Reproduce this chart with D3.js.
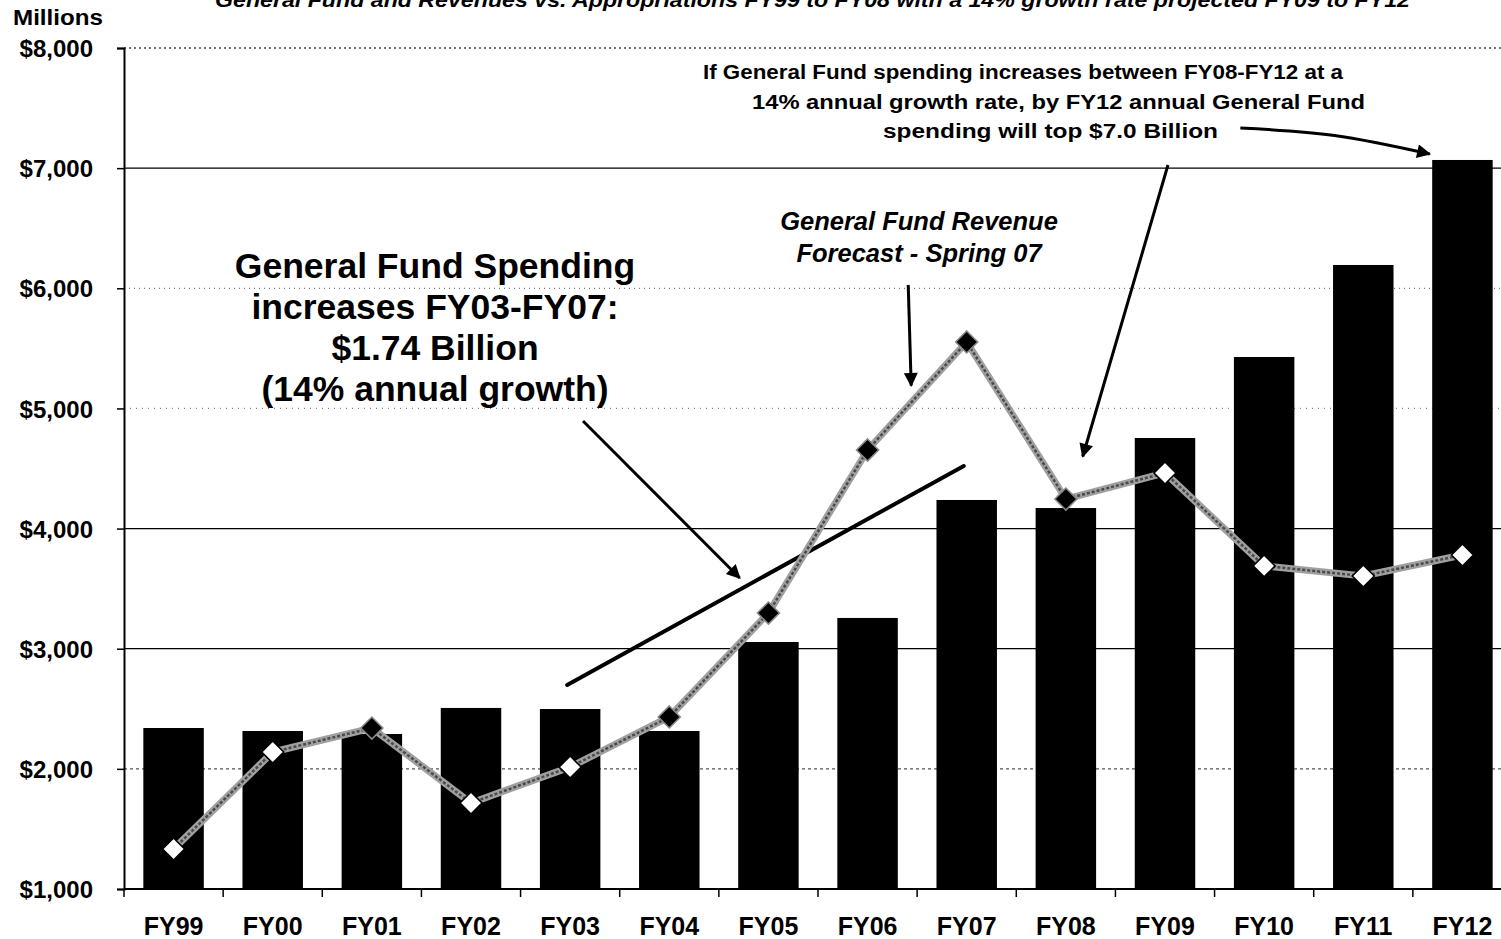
<!DOCTYPE html>
<html>
<head>
<meta charset="utf-8">
<script src="https://cdn.jsdelivr.net/npm/d3@7"></script>
<style>
  html, body { margin: 0; padding: 0; background: #fff; }
  svg { display: block; font-family: "Liberation Sans", Arial, sans-serif; }
</style>
</head>
<body>
<svg id="chart" width="1501" height="939"></svg>
<script>
// ---------------- data ----------------
const categories = ["FY99","FY00","FY01","FY02","FY03","FY04","FY05","FY06","FY07","FY08","FY09","FY10","FY11","FY12"];
const spending = [2340, 2315, 2290, 2507, 2498, 2315, 3056, 3256, 4238, 4171, 4754, 5428, 6194, 7068];
const revenue  = [1333, 2140, 2340, 1716, 2015, 2432, 3297, 4654, 5553, 4246, 4463, 3689, 3605, 3780];
const yTicks = [1000, 2000, 3000, 4000, 5000, 6000, 7000, 8000];
const titleText = "General Fund and Revenues vs. Appropriations FY99 to FY08 with a 14% growth rate projected FY09 to FY12";
const unitLabel = "Millions";
const spendNote = ["General Fund Spending", "increases FY03-FY07:", "$1.74 Billion", "(14% annual growth)"];
const revNote = ["General Fund Revenue", "Forecast - Spring 07"];
const projNote = ["If General Fund spending increases between FY08-FY12 at a", "14% annual growth rate, by FY12 annual General Fund", "spending will top $7.0 Billion"];
// trend line FY03 -> FY07 (category index, value)
const trendLine = [[3.97, 2698], [7.97, 4521]];

// ---------------- layout ----------------
const svg = d3.select("#chart");
const mLeft = 124, mRight = 1512, mTop = 48, mBottom = 889;

const x = d3.scaleBand().domain(categories).range([mLeft, mRight]).paddingInner(0.39).paddingOuter(0.195);
const y = d3.scaleLinear().domain([1000, 8000]).range([mBottom, mTop]);
const xi = d3.scaleLinear().domain([0, categories.length - 1])
  .range([x(categories[0]) + x.bandwidth() / 2, x(categories[categories.length - 1]) + x.bandwidth() / 2]);

const defs = svg.append("defs");
defs.append("marker").attr("id", "ah").attr("viewBox", "0 0 10 10")
  .attr("refX", 9).attr("refY", 5).attr("markerWidth", 16).attr("markerHeight", 14)
  .attr("markerUnits", "userSpaceOnUse").attr("orient", "auto")
  .append("path").attr("d", "M0,0 L10,5 L0,10 Z").attr("fill", "#000");

// title (cropped at top, as in the reference)
svg.append("text").attr("x", 215).attr("y", 7).attr("font-size", 21).attr("font-weight", "bold")
  .attr("font-style", "italic").attr("textLength", 1195).attr("lengthAdjust", "spacingAndGlyphs")
  .text(titleText);

svg.append("text").attr("x", 13).attr("y", 25).attr("font-size", 22).attr("font-weight", "bold")
  .attr("textLength", 90).attr("lengthAdjust", "spacingAndGlyphs").text(unitLabel);

// gridlines
const gridStyle = {8000: "2,3", 7000: null, 6000: "1,4", 5000: "1,5", 4000: null, 3000: null, 2000: "3,3"};
const gridColor = {8000: "#444", 7000: "#000", 6000: "#777", 5000: "#888", 4000: "#000", 3000: "#000", 2000: "#555"};
svg.append("g").selectAll("line").data(yTicks.filter(d => d > 1000)).join("line")
  .attr("x1", mLeft).attr("x2", 1501).attr("y1", d => y(d)).attr("y2", d => y(d))
  .attr("stroke", d => gridColor[d]).attr("stroke-width", 1.3)
  .attr("stroke-dasharray", d => gridStyle[d]);

// bars
svg.append("g").selectAll("rect").data(spending).join("rect")
  .attr("x", (d, i) => x(categories[i])).attr("width", x.bandwidth())
  .attr("y", d => y(d)).attr("height", d => y(1000) - y(d)).attr("fill", "#000");

// y axis
const yAxis = svg.append("g").attr("transform", `translate(${mLeft},0)`)
  .call(d3.axisLeft(y).tickValues(yTicks).tickSize(7).tickPadding(24).tickFormat(d => "$" + d3.format(",")(d)));
yAxis.select(".domain").attr("stroke", "#000").attr("stroke-width", 2);
yAxis.selectAll(".tick line").attr("stroke", "#000").attr("stroke-width", 1.5);
yAxis.selectAll("text").attr("font-size", 24).attr("font-weight", "bold").attr("fill", "#000")
  .attr("font-family", "'Liberation Sans', Arial, sans-serif").attr("dy", "0.36em");

// x axis
svg.append("line").attr("x1", mLeft).attr("x2", 1501).attr("y1", mBottom).attr("y2", mBottom)
  .attr("stroke", "#000").attr("stroke-width", 2);
const step = x.step();
svg.append("g").selectAll("line").data(d3.range(categories.length + 1)).join("line")
  .attr("x1", i => mLeft + i * step).attr("x2", i => mLeft + i * step)
  .attr("y1", mBottom).attr("y2", mBottom + 8).attr("stroke", "#000").attr("stroke-width", 1.5);
svg.append("g").selectAll("text").data(categories).join("text")
  .attr("x", d => x(d) + x.bandwidth() / 2).attr("y", 935).attr("text-anchor", "middle")
  .attr("font-size", 25).attr("font-weight", "bold").text(d => d);

// trend line
svg.append("line")
  .attr("x1", xi(trendLine[0][0])).attr("y1", y(trendLine[0][1]))
  .attr("x2", xi(trendLine[1][0])).attr("y2", y(trendLine[1][1]))
  .attr("stroke", "#000").attr("stroke-width", 4).attr("stroke-linecap", "round");

// revenue line
const lineGen = d3.line().x((d, i) => xi(i)).y(d => y(d));
svg.append("path").datum(revenue).attr("d", lineGen).attr("fill", "none")
  .attr("stroke", "#a0a0a0").attr("stroke-width", 7);
svg.append("path").datum(revenue).attr("d", lineGen).attr("fill", "none")
  .attr("stroke", "#4a4a4a").attr("stroke-width", 2.5).attr("stroke-dasharray", "3,2");

const filledIdx = new Set([2, 5, 6, 7, 8, 9]);
svg.append("g").selectAll("path").data(revenue).join("path")
  .attr("transform", (d, i) => `translate(${xi(i)},${y(d)})`)
  .attr("d", "M0,-11 L11,0 L0,11 L-11,0 Z")
  .attr("fill", (d, i) => filledIdx.has(i) ? "#000" : "#fff")
  .attr("stroke", (d, i) => filledIdx.has(i) ? "#888" : "#000")
  .attr("stroke-width", 1.6);

// annotations text
const g1 = svg.append("g").attr("font-weight", "bold").attr("text-anchor", "middle");
spendNote.forEach((t, k) => g1.append("text").attr("x", 435).attr("y", 278 + k * 41)
  .attr("font-size", 35.5).text(t));
revNote.forEach((t, k) => g1.append("text").attr("x", 919).attr("y", 230 + k * 32)
  .attr("font-size", 25.5).attr("font-style", "italic").text(t));
const projX = [703, 752, 883];
const projLen = [640, 613, 335];
projNote.forEach((t, k) => svg.append("text").attr("x", projX[k]).attr("y", 79 + k * 29.5)
  .attr("font-size", 20).attr("font-weight", "bold")
  .attr("textLength", projLen[k]).attr("lengthAdjust", "spacingAndGlyphs").text(t));

// arrows (category index, value)
const arrows = [
  [[4.13, 4895], [5.71, 3589]],
  [[7.41, 6028], [7.44, 5190]],
  [[10.03, 7026], [9.17, 4600]]
];
arrows.forEach(a => svg.append("line")
  .attr("x1", xi(a[0][0])).attr("y1", y(a[0][1])).attr("x2", xi(a[1][0])).attr("y2", y(a[1][1]))
  .attr("stroke", "#000").attr("stroke-width", 3).attr("marker-end", "url(#ah)"));
const curved = [[10.76, 7334], [11.71, 7272], [12.67, 7118]];
svg.append("path").datum(curved)
  .attr("d", d3.line().x(d => xi(d[0])).y(d => y(d[1])).curve(d3.curveNatural))
  .attr("fill", "none").attr("stroke", "#000").attr("stroke-width", 3).attr("marker-end", "url(#ah)");
</script>
</body>
</html>
